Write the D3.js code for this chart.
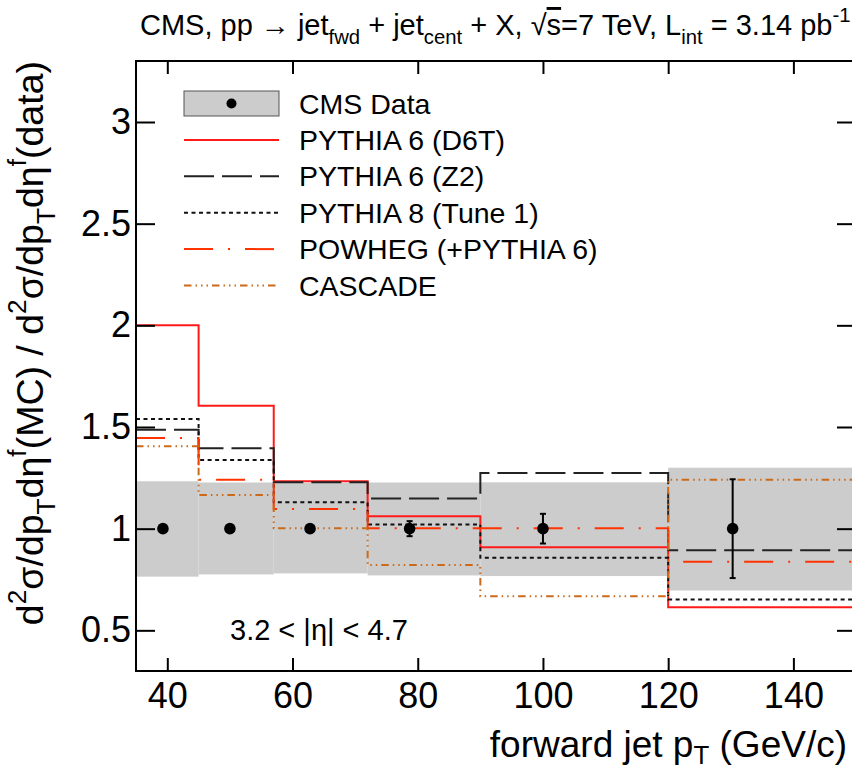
<!DOCTYPE html>
<html>
<head>
<meta charset="utf-8">
<script src="https://cdn.jsdelivr.net/npm/d3@7"></script>
<style>
  body { margin: 0; background: #fff; }
  svg { font-family: "Liberation Sans", Arial, Helvetica, sans-serif; }
</style>
</head>
<body>
<div id="chart"></div>
<script>
// bin edges of forward jet pT (GeV/c)
const binEdges = [35, 45, 57, 72, 90, 120, 150];

// CMS data points (ratio is 1 by construction)
const dataPt = [39.3, 50, 62.8, 78.7, 100, 130.3];
const dataRatio = [1, 1, 1, 1, 1, 1];
const statErr = [0.01, 0.01, 0.01, 0.037, 0.073, 0.243];
const sysHigh = [1.233, 1.227, 1.225, 1.227, 1.228, 1.30];
const sysLow = [0.764, 0.775, 0.78, 0.77, 0.767, 0.696];

// MC / data ratios per bin
const d6t = [2.0, 1.605, 1.233, 1.061, 0.909, 0.614];
const z2 = [1.487, 1.396, 1.228, 1.148, 1.274, 0.894];
const py8 = [1.539, 1.338, 1.13, 1.02, 0.857, 0.652];
const powheg = [1.446, 1.24, 1.097, 1.002, 1.002, 0.837];
const cascade = [1.405, 1.166, 1.002, 0.821, 0.668, 1.241];

const xTicks = [40, 60, 80, 100, 120, 140];
const yTicks = [0.5, 1, 1.5, 2, 2.5, 3];

const models = [
  {name: 'PYTHIA 6 (D6T)', values: d6t, color: '#ff1a1a', dash: null},
  {name: 'PYTHIA 6 (Z2)', values: z2, color: '#222', dash: '30,8'},
  {name: 'PYTHIA 8 (Tune 1)', values: py8, color: '#111', dash: '4,3.5'},
  {name: 'POWHEG (+PYTHIA 6)', values: powheg, color: '#ff3300', dash: '29,15,2,15'},
  {name: 'CASCADE', values: cascade, color: '#cc6a1a', dash: '7.5,4,1.5,4,1.5,4,1.5,4'}
];

const width = 852;
const height = 773;
const margin = ({top: 61, right: -4, bottom: 102, left: 136});

const svg = d3.create('svg')
  .attr('width', width)
  .attr('height', height);

const xScale = d3.scaleLinear()
  .domain([35, 150])
  .range([margin.left, width - margin.right]);

const yScale = d3.scaleLinear()
  .domain([0.3, 3.3])
  .range([height - margin.bottom, margin.top]);

const plot = svg.append('g');

// systematic uncertainty band
plot.append('g')
  .selectAll('rect')
  .data(sysHigh)
  .join('rect')
  .attr('x', (d, i) => xScale(binEdges[i]))
  .attr('width', (d, i) => xScale(binEdges[i + 1]) - xScale(binEdges[i]))
  .attr('y', d => yScale(d))
  .attr('height', (d, i) => yScale(sysLow[i]) - yScale(d))
  .attr('fill', '#cccccc');

// MC histograms
const stepLine = d3.line()
  .x(d => xScale(d[0]))
  .y(d => yScale(d[1]))
  .curve(d3.curveStepAfter);

models.forEach(m => {
  const pts = binEdges.map((e, i) => [e, m.values[Math.min(i, m.values.length - 1)]]);
  plot.append('path')
    .attr('d', stepLine(pts))
    .attr('fill', 'none')
    .attr('stroke', m.color)
    .attr('stroke-width', 2)
    .attr('stroke-dasharray', m.dash);
});

// data points with stat errors
const pts = plot.append('g');
pts.selectAll('line.err')
  .data(dataPt)
  .join('line')
  .attr('x1', d => xScale(d))
  .attr('x2', d => xScale(d))
  .attr('y1', (d, i) => yScale(dataRatio[i] + statErr[i]))
  .attr('y2', (d, i) => yScale(dataRatio[i] - statErr[i]))
  .attr('stroke', '#000')
  .attr('stroke-width', 2);
[1, -1].forEach(s => {
  pts.append('g').selectAll('line')
    .data(dataPt)
    .join('line')
    .attr('x1', d => xScale(d) - 3)
    .attr('x2', d => xScale(d) + 3)
    .attr('y1', (d, i) => yScale(dataRatio[i] + s * statErr[i]))
    .attr('y2', (d, i) => yScale(dataRatio[i] + s * statErr[i]))
    .attr('stroke', '#000')
    .attr('stroke-width', 2);
});
pts.selectAll('circle')
  .data(dataPt)
  .join('circle')
  .attr('cx', d => xScale(d))
  .attr('cy', (d, i) => yScale(dataRatio[i]))
  .attr('r', 5.8)
  .attr('fill', '#000');

// frame and axes (ticks point inward, as in ROOT)
const cleanDomain = g => g.select('.domain').remove();
svg.append('g')
  .attr('transform', `translate(0, ${height - margin.bottom})`)
  .call(d3.axisBottom(xScale).tickValues(xTicks).tickSize(-13).tickPadding(11))
  .call(cleanDomain)
  .call(g => g.selectAll('text').attr('font-size', 36).attr('fill', '#000').attr('font-family', null));
svg.append('g')
  .attr('transform', `translate(0, ${margin.top})`)
  .call(d3.axisTop(xScale).tickValues(xTicks).tickSize(-13).tickFormat(''))
  .call(cleanDomain);
svg.append('g')
  .attr('transform', `translate(${margin.left}, 0)`)
  .call(d3.axisLeft(yScale).tickValues(yTicks).tickSize(-19).tickPadding(5).tickFormat(d3.format('')))
  .call(cleanDomain)
  .call(g => g.selectAll('text').attr('font-size', 36).attr('fill', '#000').attr('font-family', null));
svg.append('g')
  .attr('transform', `translate(${width - margin.right}, 0)`)
  .call(d3.axisRight(yScale).tickValues(yTicks).tickSize(-19).tickFormat(''))
  .call(cleanDomain);
svg.selectAll('.tick line').attr('stroke', '#000').attr('stroke-width', 2);

svg.append('rect')
  .attr('x', margin.left)
  .attr('y', margin.top)
  .attr('width', width - margin.right - margin.left)
  .attr('height', height - margin.bottom - margin.top)
  .attr('fill', 'none')
  .attr('stroke', '#000')
  .attr('stroke-width', 2);

// rich text helper: segments [text, 'sup' | 'sub' | 'over' | undefined]
function richText(sel, parts, size, subDrop = 0.32) {
  let shift = 0;
  parts.forEach(([t, kind]) => {
    const small = kind === 'sup' || kind === 'sub';
    const target = kind === 'sup' ? -0.45 * size : kind === 'sub' ? subDrop * size : 0;
    const sp = sel.append('tspan')
      .attr('dy', target - shift)
      .attr('font-size', small ? size * 0.7 : size)
      .text(t);
    if (kind === 'over') sp.attr('text-decoration', 'overline');
    shift = target;
  });
}

// title
const title = svg.append('text')
  .attr('x', 140)
  .attr('y', 35)
  .attr('fill', '#000');
richText(title, [
  ['CMS, pp \u2192 jet'], ['fwd', 'sub'], [' + jet'], ['cent', 'sub'],
  [' + X, \u221A'], ['s', 'over'], ['=7 TeV, L'], ['int', 'sub'], [' = 3.14 pb'], ['-1', 'sup']
], 29);

// y-axis title
const yTitle = svg.append('text')
  .attr('transform', `translate(43, ${margin.top}) rotate(-90)`)
  .attr('text-anchor', 'end')
  .attr('fill', '#000');
richText(yTitle, [
  ['d'], ['2', 'sup'], ['\u03C3/dp'], ['T', 'sub'], ['d\u03B7'], ['f', 'sup'],
  ['(MC) / d'], ['2', 'sup'], ['\u03C3/dp'], ['T', 'sub'], ['d\u03B7'], ['f', 'sup'], ['(data)']
], 37.5);

// x-axis title
const xTitle = svg.append('text')
  .attr('x', 847)
  .attr('y', 757)
  .attr('text-anchor', 'end')
  .attr('fill', '#000');
richText(xTitle, [['forward jet p'], ['T', 'sub'], [' (GeV/c)']], 37, 0.18);

// eta range label
svg.append('text')
  .attr('x', 230)
  .attr('y', 640)
  .attr('font-size', 29)
  .text('3.2 < |\u03B7| < 4.7');

// legend
const legend = svg.append('g');
const rowY = i => 103.5 + i * 36.4;
legend.append('rect')
  .attr('x', 184).attr('y', rowY(0) - 12.5)
  .attr('width', 95).attr('height', 25)
  .attr('fill', '#cccccc').attr('stroke', '#555').attr('stroke-width', 1);
legend.append('circle')
  .attr('cx', 231.5).attr('cy', rowY(0)).attr('r', 5).attr('fill', '#000');
legend.append('text')
  .attr('x', 299).attr('y', rowY(0) + 10)
  .attr('font-size', 28.5).text('CMS Data');
models.forEach((m, i) => {
  legend.append('line')
    .attr('x1', 184).attr('x2', 279)
    .attr('y1', rowY(i + 1)).attr('y2', rowY(i + 1))
    .attr('stroke', m.color).attr('stroke-width', 2)
    .attr('stroke-dasharray', m.dash);
  legend.append('text')
    .attr('x', 299).attr('y', rowY(i + 1) + 10)
    .attr('font-size', 28.5).text(m.name);
});

document.getElementById('chart').appendChild(svg.node());
</script>
</body>
</html>
